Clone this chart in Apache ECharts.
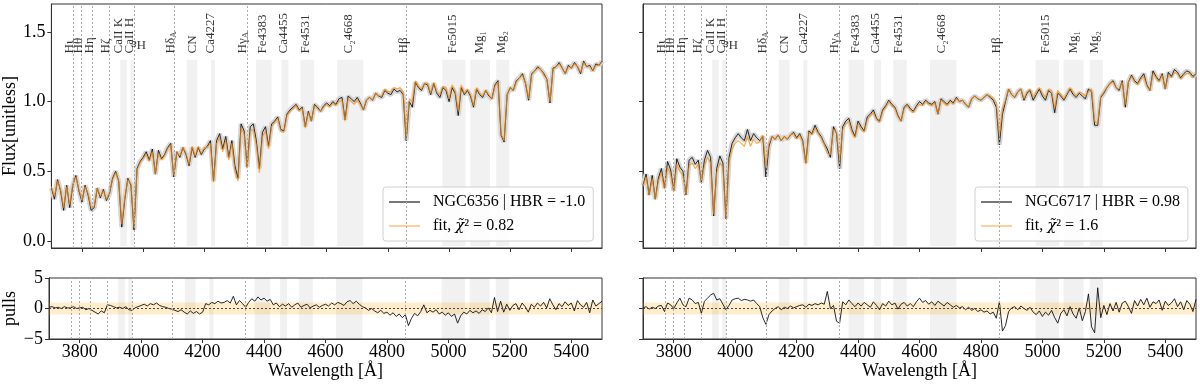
<!DOCTYPE html>
<html><head><meta charset="utf-8">
<script src="https://cdn.jsdelivr.net/npm/echarts@6/dist/echarts.min.js"></script>
<style>html,body{margin:0;padding:0;background:#fff}#c{width:1200px;height:384px}</style>
</head><body><div id="c"></div>
<script>
// ---------------- data ----------------
const WL_START = 3700, WL_STEP = 10;   // sampling grid of the spectra (Å)
const xTicks = [3800, 4000, 4200, 4400, 4600, 4800, 5000, 5200, 5400];
const fluxTicks = [0, 0.5, 1.0, 1.5];
const pullTicks = [-5, 0, 5];

const fluxL = [
0.38,0.30,0.44,0.36,0.22,0.40,0.24,0.40,0.47,0.36,
0.28,0.40,0.33,0.22,0.24,0.38,0.31,0.37,0.29,0.34,
0.45,0.50,0.43,0.10,0.30,0.45,0.40,0.08,0.52,0.57,
0.60,0.64,0.58,0.66,0.48,0.65,0.59,0.62,0.67,0.70,
0.46,0.64,0.60,0.67,0.62,0.54,0.67,0.60,0.67,0.62,
0.66,0.68,0.72,0.43,0.72,0.77,0.66,0.75,0.60,0.72,
0.54,0.45,0.84,0.79,0.53,0.82,0.84,0.72,0.52,0.78,
0.82,0.68,0.84,0.86,0.89,0.80,0.79,0.91,0.94,0.96,
0.98,0.94,0.96,0.82,0.93,0.86,0.98,0.96,0.93,0.97,
0.99,0.97,1.00,0.98,1.02,1.03,0.87,1.04,1.02,1.00,
1.03,0.99,0.94,1.01,1.03,1.01,1.06,1.04,1.03,1.08,
1.06,1.05,1.09,1.07,1.08,1.05,0.72,1.00,0.96,1.14,
1.10,1.08,1.13,1.12,1.05,1.13,1.06,1.03,1.10,1.08,
1.00,1.10,1.06,0.90,1.10,1.05,1.08,1.04,0.96,1.09,
1.05,1.03,1.08,1.04,1.02,1.12,1.15,0.76,0.71,1.05,
1.10,1.08,1.15,1.17,1.20,1.13,1.01,1.20,1.22,1.25,
1.23,1.20,1.16,0.99,1.24,1.25,1.28,1.24,1.20,1.26,
1.24,1.28,1.25,1.20,1.29,1.25,1.26,1.22,1.27,1.26,
1.29];
const fitL = [
0.39,0.32,0.43,0.37,0.24,0.39,0.26,0.41,0.46,0.37,
0.29,0.39,0.34,0.24,0.25,0.38,0.32,0.36,0.30,0.35,
0.44,0.49,0.43,0.12,0.31,0.44,0.41,0.10,0.51,0.56,
0.59,0.62,0.57,0.64,0.48,0.63,0.58,0.61,0.66,0.69,
0.47,0.64,0.61,0.67,0.63,0.55,0.68,0.61,0.68,0.63,
0.67,0.67,0.70,0.42,0.70,0.74,0.64,0.72,0.58,0.70,
0.50,0.43,0.81,0.77,0.52,0.79,0.80,0.69,0.49,0.75,
0.79,0.66,0.82,0.85,0.88,0.79,0.78,0.90,0.93,0.95,
0.97,0.93,0.95,0.81,0.92,0.86,0.97,0.95,0.93,0.96,
0.98,0.96,0.99,0.97,1.00,1.01,0.86,1.02,1.00,0.98,
1.01,0.98,0.94,1.01,1.03,1.01,1.06,1.04,1.04,1.09,
1.07,1.07,1.10,1.09,1.10,1.07,0.74,1.02,1.00,1.15,
1.11,1.09,1.13,1.13,1.06,1.14,1.07,1.05,1.11,1.10,
1.02,1.12,1.08,0.93,1.12,1.06,1.09,1.05,0.97,1.10,
1.06,1.04,1.08,1.05,1.02,1.11,1.14,0.77,0.72,1.05,
1.10,1.08,1.14,1.17,1.19,1.13,1.02,1.19,1.22,1.24,
1.23,1.19,1.16,1.00,1.23,1.25,1.27,1.24,1.20,1.25,
1.24,1.27,1.25,1.21,1.28,1.25,1.25,1.22,1.26,1.26,
1.28];
const pullL = [
0.2,0.3,0.1,0.2,0.0,0.3,0.1,0.1,0.3,0.0,
0.1,0.2,-0.2,0.0,-0.3,-0.6,-0.9,-0.4,-0.7,0.6,
0.5,0.3,0.1,0.2,0.0,0.3,-0.2,-0.3,0.1,0.3,
0.5,0.7,0.4,0.8,0.6,0.9,0.5,0.3,0.2,0.0,
-0.1,-0.3,-0.5,-0.2,-0.6,-0.9,-0.4,-0.8,-0.5,-0.9,
-0.6,0.8,0.6,1.0,0.8,1.2,0.9,1.0,1.3,0.9,
2.0,0.6,1.3,0.8,0.2,1.0,1.6,1.2,1.9,1.4,
1.7,1.2,1.5,0.6,0.9,0.3,0.7,0.4,0.8,0.2,
0.6,0.9,0.2,0.5,0.7,0.1,0.4,0.6,0.2,0.5,
0.7,0.4,0.9,0.6,1.0,0.8,0.5,1.1,1.3,0.8,
1.2,0.7,0.3,0.1,-0.3,0.0,-0.4,-0.7,-0.3,-0.8,
-0.6,-1.1,-0.7,-1.3,-0.9,-1.5,-1.0,-2.8,-1.6,-0.8,
-1.2,-0.5,0.6,-0.7,-0.3,-0.6,-0.2,-0.9,-0.6,-1.1,
-0.7,-1.3,-0.9,-2.4,-1.2,-0.6,-0.9,-0.3,-0.7,-0.4,
-0.8,-0.2,-0.5,0.1,-0.7,1.8,-0.5,1.2,-0.6,0.7,
-0.3,0.5,0.8,-0.2,0.9,0.3,-0.6,0.7,0.2,0.9,
0.4,1.0,0.1,1.6,0.6,-0.2,0.8,0.3,1.1,0.5,
0.9,-0.4,1.3,0.6,0.2,1.0,-0.7,1.4,0.4,0.8,
1.2];

const fluxR = [
0.40,0.48,0.33,0.47,0.30,0.45,0.52,0.38,0.57,0.51,
0.36,0.59,0.53,0.50,0.33,0.58,0.60,0.55,0.58,0.42,
0.58,0.65,0.60,0.18,0.52,0.61,0.56,0.16,0.60,0.70,
0.74,0.77,0.74,0.72,0.80,0.72,0.77,0.74,0.72,0.75,
0.46,0.68,0.75,0.73,0.76,0.72,0.75,0.73,0.76,0.78,
0.74,0.77,0.72,0.56,0.79,0.77,0.83,0.78,0.75,0.70,
0.66,0.60,0.82,0.77,0.52,0.82,0.86,0.88,0.80,0.75,
0.86,0.82,0.79,0.89,0.91,0.94,0.88,0.86,0.94,0.97,
1.01,0.98,0.96,0.90,0.86,0.96,0.98,0.95,0.93,0.97,
1.00,0.98,1.01,0.99,0.98,1.00,0.91,1.02,1.00,0.98,
1.01,0.99,1.03,1.00,1.01,0.98,0.96,1.02,1.04,1.02,
1.01,1.03,1.05,1.03,1.01,0.96,0.69,0.91,1.00,1.09,
1.05,1.03,1.07,1.09,1.01,1.06,1.08,1.01,1.05,1.09,
1.04,1.01,1.08,1.06,0.92,1.06,1.04,1.01,1.05,1.09,
1.05,1.03,1.06,1.04,1.02,1.09,1.07,0.83,0.83,1.03,
1.06,1.10,1.13,1.15,1.10,1.08,1.15,0.96,1.14,1.19,
1.15,1.13,1.17,1.20,1.12,1.08,1.22,1.18,1.15,1.20,
1.09,1.21,1.18,1.23,1.21,1.17,1.20,1.22,1.21,1.18,
1.20];
const fitR = [
0.39,0.46,0.33,0.45,0.30,0.43,0.49,0.37,0.53,0.48,
0.35,0.55,0.50,0.47,0.33,0.54,0.56,0.52,0.55,0.43,
0.54,0.60,0.56,0.19,0.49,0.56,0.53,0.16,0.56,0.66,
0.70,0.72,0.70,0.68,0.75,0.68,0.73,0.70,0.71,0.76,
0.53,0.70,0.75,0.73,0.76,0.72,0.75,0.73,0.76,0.77,
0.73,0.76,0.71,0.55,0.78,0.76,0.81,0.77,0.74,0.69,
0.63,0.62,0.80,0.78,0.57,0.80,0.84,0.86,0.78,0.74,
0.84,0.80,0.78,0.87,0.90,0.92,0.87,0.85,0.93,0.96,
1.00,0.97,0.95,0.89,0.86,0.95,0.97,0.94,0.92,0.96,
0.98,0.97,1.00,0.98,0.97,0.99,0.91,1.01,0.99,0.97,
1.00,0.98,1.02,1.00,1.01,0.98,0.96,1.02,1.04,1.02,
1.01,1.03,1.05,1.04,1.02,0.99,0.75,0.95,1.01,1.09,
1.05,1.03,1.07,1.09,1.02,1.07,1.09,1.03,1.07,1.10,
1.06,1.03,1.09,1.08,0.95,1.08,1.05,1.02,1.06,1.10,
1.07,1.04,1.07,1.06,1.04,1.07,1.09,0.86,0.84,1.04,
1.07,1.10,1.13,1.14,1.10,1.09,1.14,0.98,1.14,1.18,
1.14,1.12,1.16,1.18,1.11,1.08,1.20,1.17,1.14,1.19,
1.09,1.19,1.17,1.21,1.20,1.16,1.19,1.20,1.20,1.17,
1.19];
const pullR = [
0.1,0.3,-0.1,0.2,0.0,0.4,0.5,-0.5,0.9,0.6,
0.0,0.9,1.7,0.6,0.3,1.7,1.4,0.8,1.0,-0.8,
1.2,1.7,2.2,2.5,1.4,1.6,0.7,-0.2,0.5,1.4,
1.6,1.7,1.3,1.5,1.4,1.2,1.4,0.8,0.3,-1.5,
-2.6,-1.0,-0.4,0.0,0.3,-0.2,0.2,0.0,0.4,0.1,
0.3,0.5,0.6,0.2,0.7,0.5,0.8,0.6,0.9,0.7,
2.8,0.0,0.5,-2.1,-2.4,1.1,0.6,1.4,0.8,0.3,
0.9,0.4,1.0,0.6,0.2,1.1,0.5,-0.2,0.8,0.4,
1.2,0.6,0.9,-0.1,0.7,1.0,0.4,0.8,0.3,1.1,
1.7,1.0,1.3,0.7,1.1,0.5,1.2,0.8,0.4,1.0,
0.6,0.2,0.5,0.1,0.3,-0.2,0.2,-0.3,0.0,-0.5,
-0.2,-0.6,-0.4,-0.9,-0.6,-1.6,1.1,-3.7,-2.8,-0.5,
0.1,0.3,-0.2,0.4,0.0,-0.3,0.2,-0.6,-1.0,-0.4,
-1.3,-0.6,-1.1,-0.3,-1.5,-2.4,-0.8,-0.2,-1.2,0.3,
-0.9,-1.6,0.1,-2.0,-0.5,2.4,-3.0,-4.0,3.4,-1.5,
0.5,-1.0,0.8,-0.4,1.0,-0.6,0.9,1.2,0.3,-0.8,
1.3,0.4,1.5,0.6,1.7,0.2,1.1,0.8,1.4,-0.3,
1.2,0.5,0.9,1.6,0.3,1.1,-0.2,1.3,0.7,-0.5,
1.5];

// Balmer line positions (dotted lines)
const hLineWl = [3771, 3798, 3835, 3889, 3970, 4102, 4340, 4861];
// index pass-bands (shaded)
const bandNames = ['CaII K','CaII H','CN','Ca4227','Fe4383','Ca4455','Fe4531','C₂4668','Fe5015','Mg₁','Mg₂'];
const bandLo    = [3925, 3958, 4142, 4222, 4369, 4452, 4514, 4634, 4978, 5069, 5154];
const bandHi    = [3947, 3972, 4177, 4235, 4420, 4475, 4559, 4720, 5054, 5134, 5197];
// feature labels (position of the label text on the wavelength axis)
const labelNames = ['Hι','Hθ','Hη','Hζ','CaII K','CaII H','Hε','Hδ_A','CN','Ca4227','Hγ_A','Fe4383','Ca4455','Fe4531','C₂4668','Hβ','Fe5015','Mg₁','Mg₂'];
const labelWl    = [3760, 3790, 3824, 3877, 3921, 3957, 3961, 4090, 4160, 4222, 4325, 4391, 4458, 4531, 4672, 4852, 5011, 5100, 5171];
const labelBase = 1.345;
const bandTop = 1.3, bandBottom = -0.035;

const legendL = ['NGC6356 | HBR = -1.0', 'fit, χ̃² = 0.82'];
const legendR = ['NGC6717 | HBR = 0.98', 'fit, χ̃² = 1.6'];

// ---------------- chart ----------------
const FONT = 'Liberation Serif';
const toXY = arr => arr.map((v, i) => [WL_START + i * WL_STEP, v]);

const G = [
  {left: 49, top: 4, width: 553, height: 244},
  {left: 643, top: 4, width: 553, height: 244},
  {left: 49, top: 278, width: 553, height: 61},
  {left: 643, top: 278, width: 553, height: 61}
];
const grid = G.map(g => Object.assign({show: true, borderColor: '#333', borderWidth: 1, backgroundColor: 'transparent'}, g));

function xAxis(i, labels) {
  return {
    type: 'value', gridIndex: i, min: 3700, max: 5500,
    splitLine: {show: false},
    axisLine: {show: true, onZero: false, lineStyle: {color: '#333', width: 1}},
    axisTick: {show: true, customValues: xTicks, length: 4, lineStyle: {color: '#333'}},
    axisLabel: {show: labels, customValues: xTicks, color: '#000', fontFamily: FONT, fontSize: 18, margin: 4,
      formatter: v => String(v)},
    name: labels ? 'Wavelength [Å]' : '', nameLocation: 'middle', nameGap: 23,
    nameTextStyle: {fontFamily: FONT, fontSize: 18, color: '#000'}
  };
}
function yAxis(i, top, labels, name) {
  return {
    type: 'value', gridIndex: i,
    min: top ? -0.05 : -5, max: top ? 1.7 : 5,
    splitLine: {show: false},
    axisLine: {show: true, onZero: false, lineStyle: {color: '#333', width: 1}},
    axisTick: {show: true, customValues: top ? fluxTicks : pullTicks, length: 4, lineStyle: {color: '#333'}},
    axisLabel: {show: labels, customValues: top ? fluxTicks : pullTicks, color: '#000', fontFamily: FONT, fontSize: 18, margin: 6,
      formatter: v => top ? v.toFixed(1) : String(v).replace('-', '\u2212')},
    name: name || '', nameLocation: 'middle', nameGap: 30, nameRotate: 90,
    nameTextStyle: {fontFamily: FONT, fontSize: 18, color: '#000'}
  };
}

const vLineStyle = {color: '#aaa', type: [2, 2], width: 1};
function vLines() {
  return hLineWl.map(w => ({xAxis: w, lineStyle: vLineStyle}));
}
function bandAreas(top) {
  return bandLo.map((lo, k) => top
    ? [{xAxis: lo, yAxis: bandBottom}, {xAxis: bandHi[k], yAxis: bandTop}]
    : [{xAxis: lo}, {xAxis: bandHi[k]}]);
}

function labelText(s) {
  if (s.indexOf('_') >= 0) { const p = s.split('_'); return '{n|' + p[0] + '}{s|' + p[1] + '}'; }
  return '{n|' + s + '}';
}
const richLbl = {
  n: {fontFamily: FONT, fontSize: 13, color: '#000'},
  s: {fontFamily: FONT, fontSize: 9, color: '#000', verticalAlign: 'bottom', padding: [6, 0, 0, 0]}
};

function panelSeries(gi, pi, flux, fit, pull, names) {
  const out = [];
  out.push({
    type: 'line', xAxisIndex: gi, yAxisIndex: gi, data: toXY(flux), showSymbol: false, silent: true,
    lineStyle: {color: '#d6d6d6', width: 5}, z: 2,
    markArea: {silent: true, itemStyle: {color: 'rgba(0,0,0,0.055)'}, data: bandAreas(true)},
    markLine: {silent: true, symbol: 'none', label: {show: false}, data: vLines()}
  });
  out.push({
    name: names[0], type: 'line', xAxisIndex: gi, yAxisIndex: gi, data: toXY(flux), showSymbol: false,
    lineStyle: {color: '#111', width: 0.9}, itemStyle: {color: '#555'}, z: 3
  });
  out.push({
    name: names[1], type: 'line', xAxisIndex: gi, yAxisIndex: gi, data: toXY(fit), showSymbol: false,
    lineStyle: {color: 'rgba(255,140,0,0.72)', width: 1.2}, itemStyle: {color: '#ffc580'}, z: 4
  });
  out.push({
    type: 'scatter', xAxisIndex: gi, yAxisIndex: gi, symbolSize: 0.1, silent: true, z: 5,
    itemStyle: {color: 'rgba(0,0,0,0)'},
    data: labelNames.map((nm, k) => {
      const d = {value: [labelWl[k], labelBase], name: nm};
      if (nm === 'Hε') d.label = {rotate: 180, align: 'right', verticalAlign: 'bottom', offset: [0, 16]};
      return d;
    }),
    label: {show: true, position: 'inside', rotate: 90, align: 'left', verticalAlign: 'middle',
      formatter: p => labelText(p.data.name), rich: richLbl}
  });
  out.push({
    type: 'line', xAxisIndex: pi, yAxisIndex: pi, data: toXY(pull), showSymbol: false, silent: true,
    lineStyle: {color: '#111', width: 0.9}, z: 4,
    markArea: {silent: true, data: bandAreas(false).map(a => { a[0].itemStyle = {color: 'rgba(0,0,0,0.055)'}; return a; })
      .concat([[{yAxis: -1, itemStyle: {color: 'rgba(255,165,0,0.2)'}}, {yAxis: 1}]])},
    markLine: {silent: true, symbol: 'none', label: {show: false},
      data: vLines().concat([{yAxis: 0, lineStyle: {color: '#444', type: [2, 2], width: 1}}])}
  });
  return out;
}

function legendFmt(name) {
  if (name.indexOf('χ̃') < 0) return name;
  return name.split('χ̃').map(p => '{n|' + p + '}').join('{i|χ̃}');
}
function legend(names, left) {
  return {
    data: [{name: names[0], itemStyle: {color: '#555'}}, {name: names[1], itemStyle: {color: '#ffc580'}}],
    left: left, top: 187, orient: 'vertical', selectedMode: false,
    icon: 'rect', itemWidth: 31, itemHeight: 1.6, itemGap: 8,
    padding: [7, 8, 7, 6],
    backgroundColor: 'rgba(255,255,255,0.85)', borderColor: '#d0d0d0', borderWidth: 1, borderRadius: 3,
    formatter: legendFmt,
    textStyle: {fontFamily: FONT, fontSize: 16, color: '#000', padding: [0, 0, 0, 8],
      rich: {n: {fontFamily: FONT, fontSize: 16, color: '#000'}, i: {fontFamily: 'DejaVu Serif', fontSize: 15, fontStyle: 'italic', color: '#000'}}}
  };
}

const option = {
  animation: false,
  backgroundColor: '#fff',
  grid: grid,
  xAxis: [xAxis(0, false), xAxis(1, false), xAxis(2, true), xAxis(3, true)],
  yAxis: [yAxis(0, true, true, 'Flux[unitless]'), yAxis(1, true, false), yAxis(2, false, true, 'pulls'), yAxis(3, false, false)],
  legend: [legend(legendL, 383), legend(legendR, 975)],
  series: panelSeries(0, 2, fluxL, fitL, pullL, legendL).concat(panelSeries(1, 3, fluxR, fitR, pullR, legendR))
};
const chart = echarts.init(document.getElementById('c'), null, {renderer: 'canvas'});
chart.setOption(option);
</script></body></html>
